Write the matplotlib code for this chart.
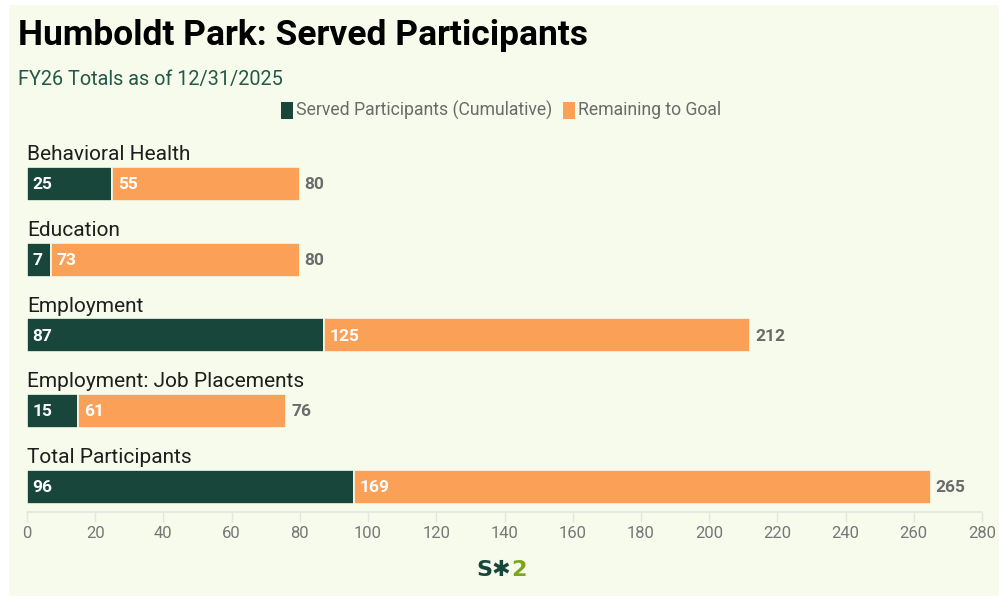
import matplotlib
matplotlib.use("Agg")
import matplotlib.pyplot as plt
from matplotlib.patches import Rectangle

categories = ["Behavioral Health", "Education", "Employment",
              "Employment: Job Placements", "Total Participants"]
served = [25, 7, 87, 15, 96]
remaining = [55, 73, 125, 61, 169]
goals = [80, 80, 212, 76, 265]
xticks = list(range(0, 281, 20))

DARK = "#18463B"
ORANGE = "#FAA157"
BG = "#F6FBEB"
GRAY = "#6B6B6B"

plt.rcParams["font.family"] = ["Roboto", "DejaVu Sans"]

W, H = 999, 596
fig = plt.figure(figsize=(W / 100, H / 100), dpi=100, facecolor="white")
fig.patches.append(Rectangle((9 / W, 0), 1 - 9 / W, 1 - 5 / H,
                             transform=fig.transFigure, facecolor=BG,
                             edgecolor="none", zorder=-10))

# axes in pixel-derived figure coordinates
left, right = 27, 982
top, bottom = 140, 512
ax = fig.add_axes([left / W, 1 - bottom / H, (right - left) / W, (bottom - top) / H])
ax.set_facecolor("none")

spacing = 75.75
bar_h = 34 / spacing
ax.set_xlim(0, 280)
ax.set_ylim(4 + 25 / spacing, -44 / spacing)

ys = list(range(len(categories)))
ax.barh(ys, served, height=bar_h, color=DARK, edgecolor=BG, linewidth=1.2)
ax.barh(ys, remaining, left=served, height=bar_h, color=ORANGE,
        edgecolor=BG, linewidth=1.2)

for y, name, s, r, g in zip(ys, categories, served, remaining, goals):
    ax.annotate(name, (0, y - bar_h / 2), xytext=(0, 2),
                textcoords="offset points", ha="left", va="bottom",
                fontsize=15, color="#1E1E1E")
    ax.annotate(str(s), (0, y), xytext=(4, -0.5), textcoords="offset points",
                ha="left", va="center", fontsize=12.5, fontweight="bold",
                color="white")
    ax.annotate(str(r), (s, y), xytext=(4, -0.5), textcoords="offset points",
                ha="left", va="center", fontsize=12.5, fontweight="bold",
                color="white")
    ax.annotate(str(g), (g, y), xytext=(3.5, -0.5), textcoords="offset points",
                ha="left", va="center", fontsize=12.5, fontweight="bold",
                color=GRAY)

for side in ["top", "right", "left"]:
    ax.spines[side].set_visible(False)
ax.spines["bottom"].set_color("#E3E6DE")
ax.spines["bottom"].set_linewidth(1.2)
ax.set_yticks([])
ax.set_xticks(xticks)
ax.tick_params(axis="x", length=7, width=1, color="#E3E6DE",
               labelsize=12, labelcolor="#777777", pad=3)

# title block
fig.text(18 / W, 1 - 36 / H, "Humboldt Park: Served Participants",
         fontsize=25.5, fontweight="bold", color="#000000", va="center", ha="left")
fig.text(18 / W, 1 - 79 / H, "FY26 Totals as of 12/31/2025",
         fontsize=14.3, color="#23584A", va="center", ha="left")

# legend
leg_y = 1 - 110 / H
items = [("Served Participants (Cumulative)", DARK, 281),
         ("Remaining to Goal", ORANGE, 563)]
for label, col, px in items:
    fig.patches.append(Rectangle((px / W, leg_y - 8.5 / H), 12 / W, 17 / H,
                                 transform=fig.transFigure, facecolor=col,
                                 edgecolor="none"))
    fig.text((px + 15) / W, leg_y, label, fontsize=12.7, color=GRAY,
             va="center", ha="left")

# footer logo
fig.text(511 / W, 1 - 570 / H, "S✱", fontsize=16, fontweight="bold",
         color=DARK, ha="right", va="center", family=["DejaVu Sans"])
fig.text(511 / W, 1 - 570 / H, "2", fontsize=16, fontweight="bold",
         color="#7CA51E", ha="left", va="center", family=["DejaVu Sans"])

fig.savefig("out.png", dpi=100, facecolor="white")
